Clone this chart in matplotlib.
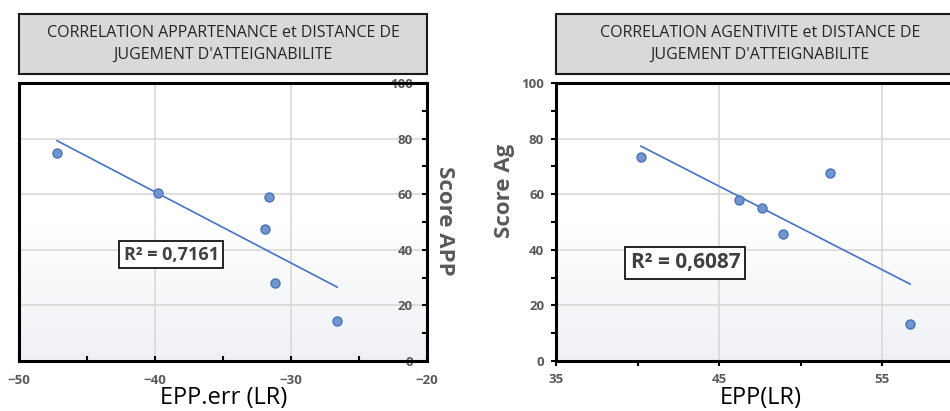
import numpy as np
import matplotlib
matplotlib.use('Agg')
import matplotlib.pyplot as plt
from matplotlib.colors import LinearSegmentedColormap

# data
app_x = [-47.2, -39.8, -31.6, -31.9, -31.2, -26.6]
app_y = [74.8, 60.5, 58.9, 47.5, 27.9, 14.3]
ag_x = [40.2, 46.2, 47.6, 48.9, 51.8, 56.7]
ag_y = [73.4, 57.8, 54.9, 45.6, 67.7, 13.4]

titles = ["CORRELATION APPARTENANCE et DISTANCE DE\nJUGEMENT D'ATTEIGNABILITE",
          "CORRELATION AGENTIVITE et DISTANCE DE\nJUGEMENT D'ATTEIGNABILITE"]
r2_labels = ["R\u00b2 = 0,7161", "R\u00b2 = 0,6087"]

plt.rcParams['font.family'] = ['Open Sans', 'DejaVu Sans']

W, H = 950, 411
fig = plt.figure(figsize=(W / 100, H / 100), dpi=100)


def px(x0, y0, x1, y1):
    return [x0 / W, 1 - y1 / H, (x1 - x0) / W, (y1 - y0) / H]


grey = '#595959'
pt_face = '#7195cd'
pt_edge = '#4a73b9'
line_c = '#4472c4'
cmap = LinearSegmentedColormap.from_list('bg', ['#ffffff', '#ffffff', '#eff1f5'])


def title_box(rect, text):
    tb = fig.add_axes(px(*rect))
    tb.set_facecolor('#d9d9d9')
    tb.set_xticks([])
    tb.set_yticks([])
    for s in tb.spines.values():
        s.set_linewidth(1.5)
        s.set_color('#1a1a1a')
    tb.text(0.5, 0.5, text, ha='center', va='center', fontsize=11.5,
            color='#262626', linespacing=1.5, transform=tb.transAxes)


def scatter_panel(ax, xs, ys, xlim):
    ax.set_xlim(*xlim)
    ax.set_ylim(0, 100)
    grad = np.linspace(0, 1, 200).reshape(-1, 1)
    ax.imshow(grad, cmap=cmap, aspect='auto', origin='upper',
              extent=[xlim[0], xlim[1], 0, 100], zorder=0)
    ax.set_axisbelow(True)
    ax.grid(True, which='major', color='#d9d9d9', lw=1.2)
    ax.plot(xs, ys, 'o', ms=6.5, mfc=pt_face, mec=pt_edge, mew=1, zorder=4)
    k, b = np.polyfit(xs, ys, 1)
    fx = np.array([min(xs), max(xs)])
    ax.plot(fx, k * fx + b, color=line_c, lw=1.2, zorder=3)
    for s in ax.spines.values():
        s.set_linewidth(2.2)
        s.set_color('black')
        s.set_zorder(5)
    ax.set_yticks(np.arange(0, 101, 20))
    ax.set_yticks(np.arange(10, 100, 20), minor=True)


# left panel
title_box((19, 14, 427, 74), titles[0])
ax1 = fig.add_axes(px(19, 83, 427, 361))
scatter_panel(ax1, app_x, app_y, (-50, -20))
ax1.set_xticks([-50, -40, -30, -20])
ax1.set_xticks([-45, -35, -25], minor=True)
ax1.yaxis.tick_right()
ax1.yaxis.set_label_position('right')
ax1.tick_params(axis='both', which='both', direction='in', length=3.5, width=1.5,
                color='black')
ax1.tick_params(axis='x', pad=9, labelsize=9.5, labelcolor=grey)
ax1.tick_params(axis='y', pad=-10, labelsize=9.5, labelcolor=grey)
for lbl in ax1.get_xticklabels():
    lbl.set_fontweight('bold')
for t in ax1.yaxis.get_major_ticks():
    t.label2.set_horizontalalignment('right')
    t.label2.set_fontweight('bold')
ax1.set_ylabel('Score APP', rotation=270, va='center', ha='center',
               rotation_mode='default', fontsize=16, fontweight='bold', color=grey)
ax1.yaxis.set_label_coords(1.044, 0.505)
ax1.set_xlabel('EPP.err (LR)', fontsize=17, va='center', color='black')
ax1.xaxis.set_label_coords(0.501, -0.133)
ax1.text(-38.8, 38.3, r2_labels[0], ha='center', va='center', fontsize=13,
         fontweight='bold', color='#404040', zorder=6,
         bbox=dict(boxstyle='square,pad=0.25', fc='white', ec='black', lw=1.2))

# right panel
title_box((556, 14, 964, 74), titles[1])
ax2 = fig.add_axes(px(556, 83, 964, 361))
scatter_panel(ax2, ag_x, ag_y, (35, 60))
ax2.set_xticks([35, 45, 55])
ax2.set_xticks([40, 50, 60], minor=True)
ax2.tick_params(axis='both', which='both', direction='out', length=3.5, width=1.5,
                color='black')
ax2.tick_params(axis='both', pad=5, labelsize=9.5, labelcolor=grey)
for lbl in ax2.get_xticklabels() + ax2.get_yticklabels():
    lbl.set_fontweight('bold')
ax2.set_ylabel('Score Ag', rotation=90, va='center', fontsize=16,
               fontweight='bold', color=grey)
ax2.yaxis.set_label_coords(-0.127, 0.612)
ax2.set_xlabel('EPP(LR)', fontsize=17, va='center', color='black')
ax2.xaxis.set_label_coords(0.502, -0.133)
ax2.text(42.93, 35.3, r2_labels[1], ha='center', va='center', fontsize=15,
         fontweight='bold', color='#404040', zorder=6,
         bbox=dict(boxstyle='square,pad=0.25', fc='white', ec='black', lw=1.2))

fig.savefig('out.png', dpi=100)
